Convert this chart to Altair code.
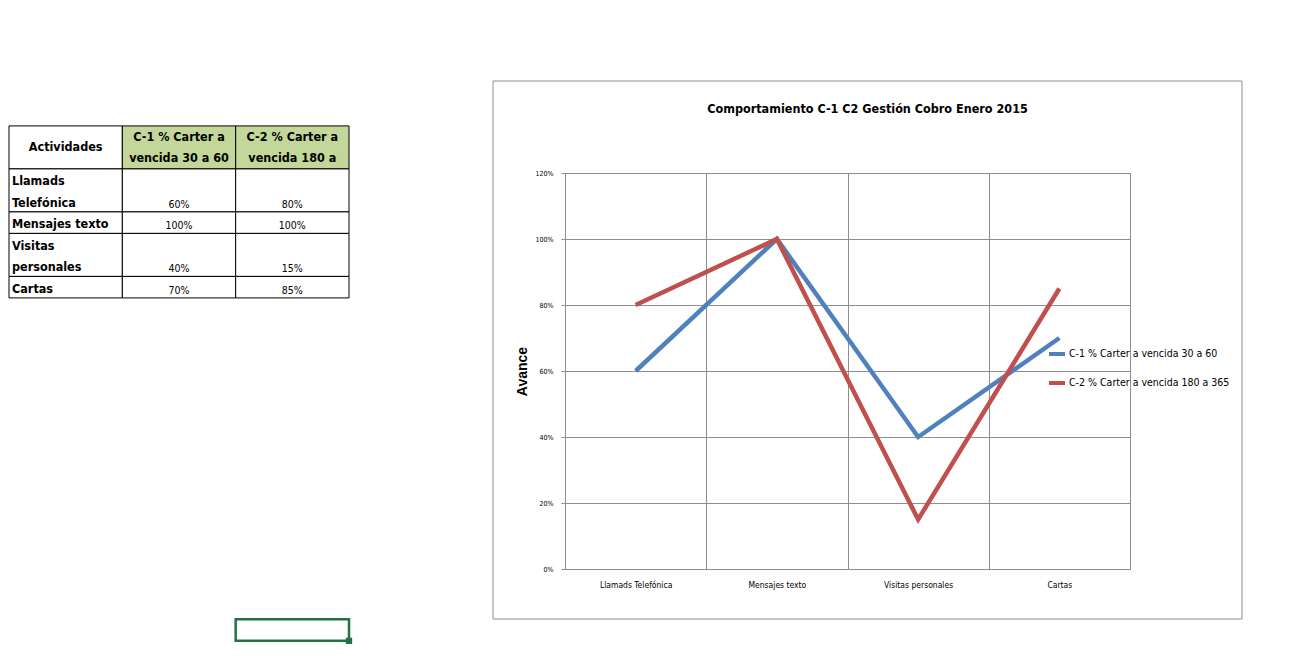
import altair as alt
import pandas as pd

# Activities (chart categories) and the same labels as wrapped in the sheet cells
activities = ["Llamads Telefónica", "Mensajes texto", "Visitas personales", "Cartas"]
row_labels = ["Llamads\nTelefónica", "Mensajes texto", "Visitas\npersonales", "Cartas"]
header_labels = ["Actividades", "C-1 % Carter a\nvencida 30 a  60", "C-2 % Carter a\nvencida 180 a"]

# Series
series_names = ["C-1 % Carter a vencida 30 a  60", "C-2 % Carter a vencida 180 a  365"]
c1_values = [0.60, 1.00, 0.40, 0.70]
c2_values = [0.80, 1.00, 0.15, 0.85]
series_colors = ["#4F81BD", "#C0504D"]

y_ticks = [0, 0.2, 0.4, 0.6, 0.8, 1.0, 1.2]

NARROW = "Liberation Sans Narrow, DejaVu Sans Condensed, sans-serif"
GRID = "#8e8e8e"
ROW_PX = 21.5  # height of one sheet row

# ---------------- sheet table ----------------
columns = ["A", "B", "C"]
header_lines = max(t.count("\n") + 1 for t in header_labels)
rows = [("header", header_labels, header_lines)]
for lab, v1, v2 in zip(row_labels, c1_values, c2_values):
    rows.append(("body", [lab, f"{v1:.0%}", f"{v2:.0%}"], lab.count("\n") + 1))

records = []
top = 0
for kind, texts, nlines in rows:
    for ci, (col, txt) in enumerate(zip(columns, texts)):
        if kind == "header":
            role = "header"
        elif ci == 0:
            role = "label"
        else:
            role = "value"
        fill = "#C4D79B" if (kind == "header" and ci > 0) else "#ffffff"
        tl = txt.count("\n") + 1
        records.append(dict(col=col, text=txt, top=top, bottom=top + nlines,
                            # first text line: bottom-aligned block / vertically centred block
                            first_bottom=top + nlines - (tl - 1),
                            first_mid=top + nlines / 2 - (tl - 1) / 2,
                            role=role, fill=fill))
    top += nlines
cells = pd.DataFrame(records)

# selected cell of the sheet
selection = pd.DataFrame({"col": ["C"], "top": [22.95], "bottom": [23.95]})

band = alt.Scale(type="band", domain=columns, paddingInner=0, paddingOuter=0)
tx = alt.X("col:N", scale=band, axis=None)
# one unit = one sheet row; the table starts a little above the chart's plot area
ty_scale = alt.Scale(domain=[2.19, 2.19 + 396 / ROW_PX], reverse=True, nice=False, zero=False)

cell_rects = alt.Chart(cells).mark_rect(stroke="#000000", strokeWidth=1).encode(
    x=tx,
    y=alt.Y("top:Q", scale=ty_scale, axis=None),
    y2="bottom:Q",
    fill=alt.Fill("fill:N", scale=None),
)
header_text = alt.Chart(cells).transform_filter(alt.datum.role == "header").mark_text(
    font=NARROW, fontWeight="bold", fontSize=12.5, baseline="middle", align="center",
    lineHeight=ROW_PX, lineBreak="\n"
).encode(x=tx, y=alt.Y("first_mid:Q", scale=ty_scale), text="text:N")
label_text = alt.Chart(cells).transform_filter(alt.datum.role == "label").mark_text(
    font=NARROW, fontWeight="bold", fontSize=12.5, baseline="bottom", align="left",
    dx=3, dy=-2, lineHeight=ROW_PX, lineBreak="\n"
).encode(x=alt.X("col:N", scale=band, axis=None, bandPosition=0),
         y=alt.Y("first_bottom:Q", scale=ty_scale), text="text:N")
value_text = alt.Chart(cells).transform_filter(alt.datum.role == "value").mark_text(
    font=NARROW, fontSize=10.5, baseline="bottom", align="center", dy=-2
).encode(x=tx, y=alt.Y("first_bottom:Q", scale=ty_scale), text="text:N")
sel_rect = alt.Chart(selection).mark_rect(fillOpacity=0, stroke="#217346", strokeWidth=2.5).encode(
    x=tx, y=alt.Y("top:Q", scale=ty_scale), y2="bottom:Q"
)
sel_handle = alt.Chart(selection).mark_square(size=40, color="#217346", opacity=1).encode(
    x=alt.X("col:N", scale=band, axis=None, bandPosition=1),
    y=alt.Y("bottom:Q", scale=ty_scale),
)

table = alt.layer(cell_rects, header_text, label_text, value_text, sel_rect, sel_handle).properties(
    width=340, height=396, view=alt.ViewBackground(strokeOpacity=0)
)

# ---------------- line chart ----------------
line_df = pd.DataFrame({
    "activity": activities * 2,
    "series": [series_names[0]] * 4 + [series_names[1]] * 4,
    "value": c1_values + c2_values,
})

frame = alt.Chart(pd.DataFrame({"f": [0]})).mark_rect(
    fillOpacity=0, stroke=GRID, strokeWidth=1
).encode(x=alt.value(-72), x2=alt.value(677), y=alt.value(-92), y2=alt.value(446))

lines = alt.Chart(line_df).mark_line(strokeWidth=4.5).encode(
    x=alt.X("activity:N", sort=activities,
            scale=alt.Scale(type="band", domain=activities, paddingInner=0, paddingOuter=0),
            axis=alt.Axis(title=None, labelAngle=0, tickBand="extent", grid=True, ticks=False,
                          domain=False, labelFontSize=8.5, labelFont=NARROW, labelPadding=11,
                          labelColor="#000000", gridColor=GRID, gridOpacity=1)),
    y=alt.Y("value:Q", scale=alt.Scale(domain=[0, 1.2], nice=False),
            axis=alt.Axis(values=y_ticks, format=".0%", title="Avance",
                          titleFont="Liberation Sans, Arial, sans-serif",
                          titleFontSize=14, titleFontWeight="bold", titleColor="#000000",
                          titlePadding=5, ticks=True, tickSize=4, tickColor=GRID, domain=False,
                          labelFontSize=7, labelFont=NARROW, labelPadding=8,
                          labelColor="#000000", gridColor=GRID, gridOpacity=1)),
    color=alt.Color("series:N", sort=series_names,
                    scale=alt.Scale(domain=series_names, range=series_colors),
                    legend=alt.Legend(title=None, orient="none", legendX=1038, legendY=171,
                                      symbolType="stroke", symbolStrokeWidth=4, symbolSize=256,
                                      labelFont=NARROW, labelFontSize=10.5, labelColor="#000000",
                                      labelLimit=400, rowPadding=11, labelOffset=2)),
)

chart_panel = alt.layer(frame, lines).properties(
    width=565, height=396,
    title=alt.TitleParams("Comportamiento  C-1  C2 Gestión Cobro Enero 2015", font=NARROW,
                          fontSize=12.5, fontWeight="bold", color="#000000", anchor="middle",
                          frame="bounds", offset=-35),
)

chart = alt.hconcat(table, chart_panel, spacing=139).properties(
    padding={"left": 8, "top": 80, "right": 0, "bottom": 0},
    background="#ffffff",
).configure_view(stroke=GRID, strokeWidth=1)

chart.save("out.html", embed_options={"renderer": "svg", "actions": False})
